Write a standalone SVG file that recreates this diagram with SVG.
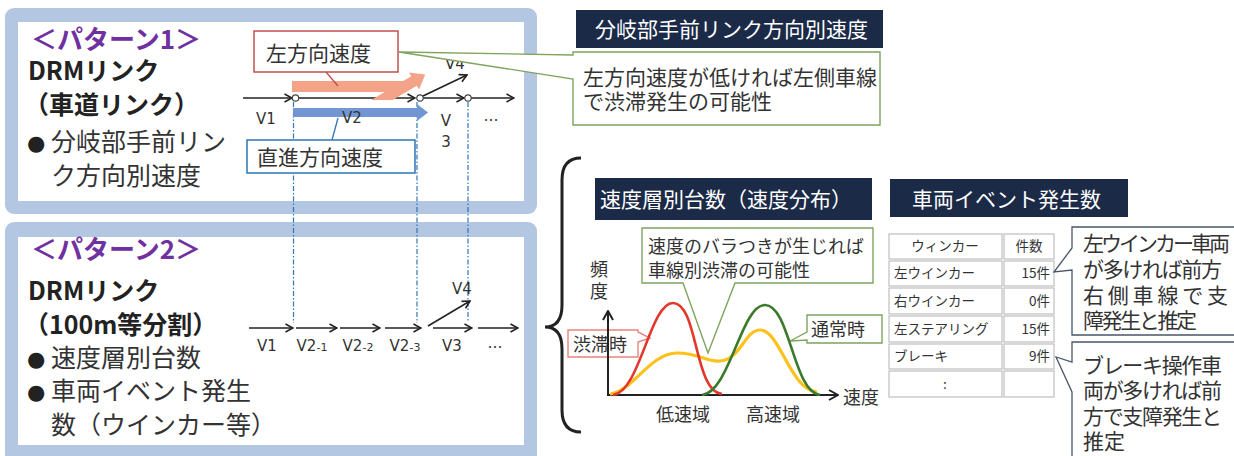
<svg xmlns="http://www.w3.org/2000/svg" width="1234" height="456" viewBox="0 0 1234 456">
<style>
text{font-family:"Noto Sans CJK JP","Noto Sans",sans-serif}
.body{fill:#333;font-size:25px}
.bul{font-family:"DejaVu Sans",sans-serif;fill:#222;font-size:21px}
.bold{font-weight:bold;fill:#222;font-size:25px}
.pur{fill:#7030a0;font-weight:bold;font-size:26px}
.lbl{font-family:"DejaVu Sans",sans-serif;font-size:15px;fill:#333}
.hdr{fill:#1b2a47}
.ht{fill:#fff;font-size:21px}
.co{fill:#333;font-size:21px}
.sm{fill:#333;font-size:18px}
.tb{fill:#333;font-size:13.5px}
.lnk{stroke:#222;stroke-width:1.6;fill:none;marker-end:url(#ah)}
.dd{stroke:#2e75b6;stroke-width:1.2;stroke-dasharray:5 2 1.5 2;fill:none}
.cell{fill:#fff;stroke:#bfbfbf;stroke-width:1.2}
.nd{fill:#fff;stroke:#444;stroke-width:1.2}
.panel{fill:#b4c7e2}
</style>
<defs>
<marker id="ah" viewBox="0 0 10 10" refX="9" refY="5" markerWidth="10" markerHeight="10" orient="auto" markerUnits="userSpaceOnUse">
<path d="M1.5,1 L9,5 L1.5,9" fill="none" stroke="#222" stroke-width="1.6"/>
</marker>
<marker id="ax" viewBox="0 0 12 12" refX="11" refY="6" markerWidth="12" markerHeight="12" orient="auto" markerUnits="userSpaceOnUse">
<path d="M2,1 L11,6 L2,11" fill="none" stroke="#222" stroke-width="2"/>
</marker>
</defs>

<g id="pattern1">
<rect class="panel" x="5" y="8" width="532" height="206" rx="9"/>
<rect x="18" y="22" width="506" height="179" fill="#fff"/>
<text class="pur" x="31" y="49">＜パターン1＞</text>
<text class="bold" x="28" y="80">DRMリンク</text>
<text class="bold" x="24" y="114">（車道リンク）</text>
<text class="bul" x="27" y="150">●</text>
<text class="body" x="51" y="151">分岐部手前リン</text>
<text class="body" x="51" y="185">ク方向別速度</text>
</g>

<g id="pattern2">
<rect class="panel" x="5" y="222" width="532" height="250" rx="9"/>
<rect x="18" y="237" width="506" height="208" fill="#fff"/>
<text class="pur" x="31" y="259">＜パターン2＞</text>
<text class="bold" x="28" y="300">DRMリンク</text>
<text class="bold" x="24" y="334">（100m等分割）</text>
<text class="bul" x="27" y="366">●</text>
<text class="body" x="51" y="367">速度層別台数</text>
<text class="bul" x="27" y="399">●</text>
<text class="body" x="51" y="400">車両イベント発生</text>
<text class="body" x="51" y="434">数（ウインカー等）</text>
</g>

<g id="connectors">
<path class="dd" d="M293.5,102 V323 M417,102 V323 M468,102 V322"/>
<line class="lnk" x1="243" y1="98" x2="292" y2="98"/>
<line class="lnk" x1="298" y1="98" x2="415" y2="98"/>
<line class="lnk" x1="423" y1="96" x2="467" y2="75"/>
<line class="lnk" x1="423" y1="98" x2="464" y2="98"/>
<line class="lnk" x1="471" y1="98" x2="514" y2="98"/>
<circle class="nd" cx="295.5" cy="98" r="3.2"/>
<circle class="nd" cx="420" cy="98" r="3.2"/>
<circle class="nd" cx="468" cy="98" r="3.2"/>
<line class="lnk" x1="249" y1="328" x2="293" y2="328"/>
<line class="lnk" x1="296" y1="328" x2="337" y2="328"/>
<line class="lnk" x1="340" y1="328" x2="380" y2="328"/>
<line class="lnk" x1="385" y1="328" x2="421" y2="328"/>
<line class="lnk" x1="428" y1="326" x2="470" y2="301"/>
<line class="lnk" x1="433" y1="328" x2="472" y2="328"/>
<line class="lnk" x1="478" y1="328" x2="518" y2="328"/>
</g>

<g id="link-labels">
<text class="lbl" x="256" y="124">V1</text>
<text class="lbl" x="446" y="126" text-anchor="middle">V</text>
<text class="lbl" x="446" y="147" text-anchor="middle">3</text>
<text class="lbl" x="455" y="69" text-anchor="middle">V4</text>
<text class="lbl" x="491" y="121" text-anchor="middle">…</text>
<text class="lbl" x="267" y="351" text-anchor="middle">V1</text>
<text class="lbl" x="312" y="351" text-anchor="middle">V2<tspan font-size="11">-1</tspan></text>
<text class="lbl" x="358" y="351" text-anchor="middle">V2<tspan font-size="11">-2</tspan></text>
<text class="lbl" x="405" y="351" text-anchor="middle">V2<tspan font-size="11">-3</tspan></text>
<text class="lbl" x="452" y="351" text-anchor="middle">V3</text>
<text class="lbl" x="462" y="294" text-anchor="middle">V4</text>
<text class="lbl" x="495" y="348" text-anchor="middle">…</text>
</g>

<g id="left-speed">
<polygon points="292,81 403.3,81 411.2,76.3 409,72.4 425.2,74.4 419.1,89.6 416.8,85.7 392.7,100 371.2,100 384.7,92 292,92" fill="#f3a388"/>
<line x1="326" y1="72" x2="338" y2="86" stroke="#c0504d" stroke-width="1.3"/>
<rect x="254" y="31" width="144" height="41" fill="#fff" stroke="#c0504d" stroke-width="1.5"/>
<text class="co" x="266" y="61" font-size="23">左方向速度</text>
</g>

<g id="straight-speed">
<path d="M293,108 H417 V104 L428,112.5 L417,121 V117 H293 Z" fill="#7196d2"/>
<text class="lbl" x="342" y="123">V2</text>
<line x1="332" y1="140" x2="338" y2="118" stroke="#2e75b6" stroke-width="1.3"/>
<rect x="247" y="140" width="168" height="33" fill="#fff" stroke="#2e75b6" stroke-width="1.5"/>
<text class="co" x="257" y="165" font-size="23">直進方向速度</text>
</g>

<g id="branch-callout">
<path d="M573,52 H880 V125 H573 V79 L399,52 L573,55 Z" fill="#fff" stroke="#7ea45f" stroke-width="1.4"/>
<text class="co" x="583" y="85" font-size="20.5">左方向速度が低ければ左側車線</text>
<text class="co" x="583" y="109" font-size="20.5">で渋滞発生の可能性</text>
</g>

<g id="branch-header">
<rect class="hdr" x="576" y="10" width="307" height="38"/>
<text class="ht" x="595" y="37">分岐部手前リンク方向別速度</text>
</g>

<g id="brace">
<path d="M581,158 Q562,158 562,180 V305 Q562,327 545,327 Q562,327 562,349 V410 Q562,432 581,432" fill="none" stroke="#222" stroke-width="3"/>
</g>

<g id="dist-header">
<rect class="hdr" x="595" y="178" width="277" height="42"/>
<text class="ht" x="600" y="207">速度層別台数（速度分布）</text>
</g>

<g id="dist-callout">
<path d="M642,228 H873 V283 H735 L708,353 L683,283 H642 Z" fill="#fff" stroke="#7ea45f" stroke-width="1.4"/>
<text class="sm" x="648" y="253">速度のバラつきが生じれば</text>
<text class="sm" x="648" y="277">車線別渋滞の可能性</text>
</g>

<g id="jam-callout">
<path d="M568,330 H638 V332 L650,338 L638,342 V357 H568 Z" fill="#fff" stroke="#e8857c" stroke-width="1.4"/>
<text class="sm" x="573" y="351">渋滞時</text>
</g>

<g id="normal-callout">
<path d="M807,315 H882 V343 H807 V340 L790,341 L807,332 Z" fill="#fff" stroke="#7ea45f" stroke-width="1.4"/>
<text class="sm" x="811" y="336">通常時</text>
</g>

<g id="chart">
<text class="sm" x="599" y="276" text-anchor="middle" font-size="17">頻</text>
<text class="sm" x="599" y="298" text-anchor="middle" font-size="17">度</text>
<line x1="608" y1="395" x2="608" y2="311" stroke="#222" stroke-width="2" marker-end="url(#ax)"/>
<line x1="607" y1="395" x2="838" y2="395" stroke="#222" stroke-width="2" marker-end="url(#ax)"/>
<path d="M610,394 C632,392 650,353 677,353 C700,353 705,362 720,361 C740,360 745,330 760,330 C780,330 790,390 817,392" fill="none" stroke="#fcc21b" stroke-width="3.2"/>
<path d="M613,395 C640,392 650,303 673,303 C698,303 694,392 722,394" fill="none" stroke="#e2382c" stroke-width="2.6"/>
<path d="M702,395 C730,392 741,305 765,305 C790,305 793,392 820,395" fill="none" stroke="#3b7a2b" stroke-width="2.6"/>
<text class="sm" x="843" y="404">速度</text>
<text class="sm" x="683" y="421" text-anchor="middle">低速域</text>
<text class="sm" x="773" y="421" text-anchor="middle">高速域</text>
</g>

<g id="event-header">
<rect class="hdr" x="890" y="179" width="238" height="38"/>
<text class="ht" x="912" y="207">車両イベント発生数</text>
</g>

<g id="event-table">
<rect class="cell" x="889" y="234" width="113" height="25"/><rect class="cell" x="1004" y="234" width="50" height="25"/>
<rect class="cell" x="889" y="261" width="113" height="25"/><rect class="cell" x="1004" y="261" width="50" height="25"/>
<rect class="cell" x="889" y="288" width="113" height="26"/><rect class="cell" x="1004" y="288" width="50" height="26"/>
<rect class="cell" x="889" y="316" width="113" height="26"/><rect class="cell" x="1004" y="316" width="50" height="26"/>
<rect class="cell" x="889" y="344" width="113" height="25"/><rect class="cell" x="1004" y="344" width="50" height="25"/>
<rect class="cell" x="889" y="371" width="113" height="26"/><rect class="cell" x="1004" y="371" width="50" height="26"/>
<text class="tb" x="945" y="251" text-anchor="middle">ウィンカー</text>
<text class="tb" x="1029" y="251" text-anchor="middle">件数</text>
<text class="tb" x="894" y="278">左ウインカー</text><text class="tb" x="1050" y="278" text-anchor="end">15件</text>
<text class="tb" x="894" y="306">右ウインカー</text><text class="tb" x="1050" y="306" text-anchor="end">0件</text>
<text class="tb" x="894" y="334">左ステアリング</text><text class="tb" x="1050" y="334" text-anchor="end">15件</text>
<text class="tb" x="894" y="361">ブレーキ</text><text class="tb" x="1050" y="361" text-anchor="end">9件</text>
<text class="tb" x="945" y="389" text-anchor="middle">:</text>
</g>

<g id="winker-callout">
<path d="M1072,227 H1240 V335 H1072 V270 L1054,272 L1072,248 Z" fill="#fff" stroke="#4a5668" stroke-width="1.3"/>
<text class="co" x="1083" y="251" textLength="147" lengthAdjust="spacing">左ウインカー車両</text>
<text class="co" x="1083" y="277" textLength="139" lengthAdjust="spacing">が多ければ前方</text>
<text class="co" x="1083" y="303" textLength="145" lengthAdjust="spacing">右側車線で支</text>
<text class="co" x="1083" y="328" textLength="114" lengthAdjust="spacing">障発生と推定</text>
</g>

<g id="brake-callout">
<path d="M1072,342 H1240 V470 H1072 V392 L1056,357 L1072,362 Z" fill="#fff" stroke="#4a5668" stroke-width="1.3"/>
<text class="co" x="1083" y="373" textLength="139" lengthAdjust="spacing">ブレーキ操作車</text>
<text class="co" x="1083" y="398" textLength="139" lengthAdjust="spacing">両が多ければ前</text>
<text class="co" x="1083" y="424" textLength="139" lengthAdjust="spacing">方で支障発生と</text>
<text class="co" x="1083" y="449">推定</text>
</g>
</svg>
